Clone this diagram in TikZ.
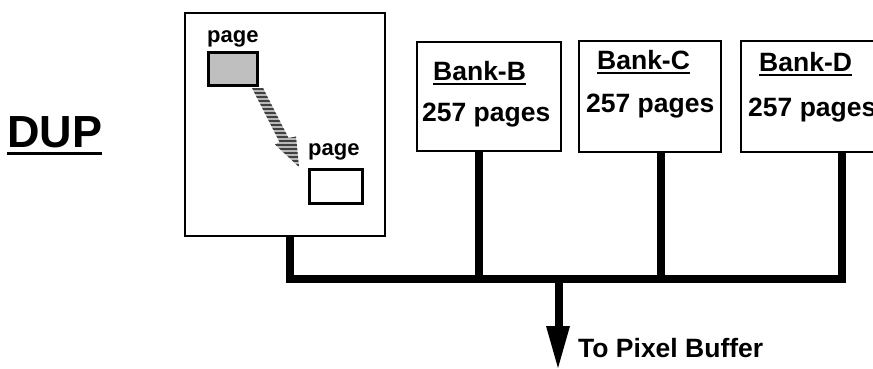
\documentclass[tikz,border=0pt]{standalone}
\usepackage{fontspec}
\setmainfont{Liberation Sans}
\begin{document}
\begin{tikzpicture}[x=1pt,y=-1pt,
  box/.style={draw, line width=1.5pt, inner sep=0pt, anchor=north west},
  pagebox/.style={draw, line width=3pt, inner sep=0pt, anchor=north west},
  lbl/.style={font=\fontsize{26.5}{30}\selectfont\bfseries, inner sep=0pt, anchor=base west},
  small/.style={font=\fontsize{22}{26}\selectfont\bfseries, inner sep=0pt, anchor=base west},
  uline/.style={line width=2pt},
  bus/.style={line width=8pt, line cap=butt, line join=miter}]
\useasboundingbox (0,0) rectangle (873,368);
\clip (0,0) rectangle (873,368);
% boxes
\node[box, minimum width=200pt, minimum height=223pt] (dup) at (184,12) {};
\node[box, minimum width=144pt, minimum height=109pt] (bankB) at (416,41) {};
\node[box, minimum width=142pt, minimum height=111pt] (bankC) at (578,40) {};
\node[box, minimum width=150pt, minimum height=111pt] (bankD) at (740,40) {};
% pages
\node[pagebox, fill=black!25, minimum width=49pt, minimum height=33pt] (p1) at (207,51) {};
\node[pagebox, fill=white, minimum width=53pt, minimum height=34pt] (p2) at (308,168) {};
\node[small] (p1t) at (207,42) {page};
\node[small] (p2t) at (308,155) {page};
% hatched arrow
\begin{scope}
\clip (252,88) -- (263,88) -- (288.5,138) -- (296,136.5) -- (299,167) -- (275,144.5) -- (279.5,142) -- cycle;
\fill[black!28] (248,85) rectangle (302,170);
\foreach \yy in {89,93,...,169} \draw[line width=2.2pt, black!75] (248,\yy) -- (302,\yy);
\end{scope}
% title
\node[font=\fontsize{45}{50}\selectfont\bfseries, inner sep=0pt, anchor=base west] (title) at (7,147) {DUP};
\draw[line width=3pt] ([yshift=-6pt]title.base west) -- ([yshift=-6pt]title.base east);
% bank texts
\node[lbl] (tB) at (433,80) {Bank-B};
\node[lbl] (nB) at (422,121) {257 pages};
\node[lbl] (tC) at (597,69) {Bank-C};
\node[lbl] (nC) at (586,112) {257 pages};
\node[lbl] (tD) at (759,71) {Bank-D};
\node[lbl] (nD) at (748,116) {257 pages};
\foreach \n in {tB,tC,tD}
  \draw[uline] ([yshift=-4pt]\n.base west) -- ([yshift=-4pt]\n.base east);
% bus
\coordinate (dA) at (290,235);
\coordinate (dB) at (479,150);
\coordinate (dC) at (661,151);
\coordinate (dD) at (842,151);
\coordinate (jA) at (290,279);
\coordinate (jB) at (479,279);
\coordinate (jC) at (661,279);
\coordinate (jD) at (842,279);
\coordinate (jO) at (559,279);
\coordinate (oN) at (559,326);
\coordinate (oT) at (558,368);
\draw[bus] (dA) -- (jA) -- (jD) -- (dD);
\draw[bus] (dB) -- (jB);
\draw[bus] (dC) -- (jC);
\draw[bus] (jO) -- (oN);
\fill ([xshift=-13pt]oN) -- ([xshift=11pt]oN) -- (oT) -- cycle;
\node[lbl] (out) at (578,357) {To Pixel Buffer};
\end{tikzpicture}
\end{document}
